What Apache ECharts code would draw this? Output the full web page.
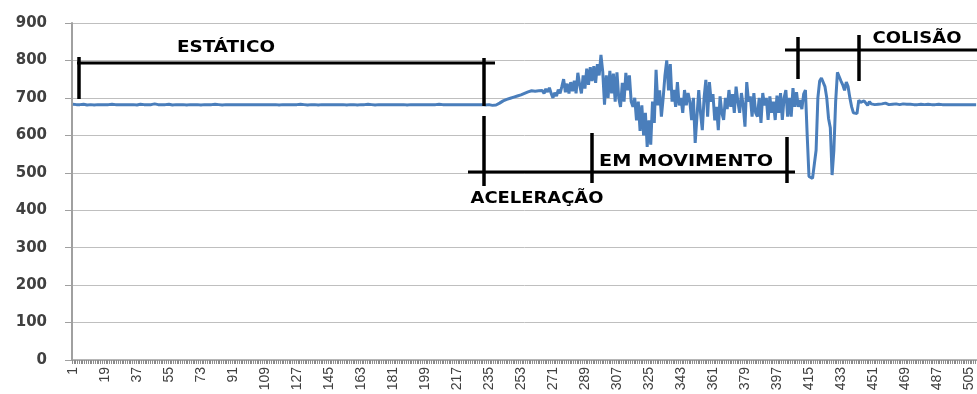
<!DOCTYPE html>
<html>
<head>
<meta charset="utf-8">
<script src="https://cdn.jsdelivr.net/npm/echarts@6/dist/echarts.min.js"></script>
<style>
html,body{margin:0;padding:0;background:#fff;}
#chart{width:977px;height:394px;}
</style>
</head>
<body>
<div id="chart"></div>
<script>
// ---- data ----
const staticValues = [
683,682,682,681,682,682,683,682,681,682,682,682,681,682,682,683,682,682,682,681,
682,682,683,684,682,681,682,682,682,683,682,681,682,682,682,682,681,682,683,682,
682,681,682,682,682,683,684,682,682,681,682,682,682,682,683,682,681,682,682,682,
682,683,682,682,681,682,682,682,682,683,682,682,681,682,682,682,682,681,682,682,
683,682,682,682,681,682,682,682,682,683,682,682,682,681,682,682,682,682,682,681,
682,682,682,683,682,682,682,681,682,682,682,682,682,683,682,682,681,682,682,682,
682,682,682,681,682,682,682,682,683,682,682,682,681,682,682,682,682,682,681,682,
682,682,682,682,682,681,682,682,682,683,682,682,682,682,681,682,682,682,682,682,
681,682,682,682,682,682,683,682,682,682,681,682,682,682,682,682,682,681,682,682,
682,682,682,683,682,682,682,682,681,682,682,682,682,682,682,683,682,682,682,681,
682,682,682,682,682,682,683,682,682,682,682,681,682,682,682,682,682,682,682,683,
682,682,682,681,682,682,682,682,682,683,682,682,681,682,682
];
const accelValues = [
681,680,680,681,683,686,689,692,694,696,698,699,701,702,704,705,706,708,710,712,
714,716,715,719,722,718,723,719,724
];
const movingValues = [
720,712,724,716,727,712,700,714,705,722,712,730,750,715,738,712,742,718,746,712,
767,735,712,760,725,778,735,782,745,785,740,790,760,815,770,682,
760,700,772,712,765,690,768,700,676,740,690,767,720,760,690,676,700,640,690,612,
680,600,660,569,640,575,690,633,775,680,720,650,700,
760,800,720,790,690,721,676,742,680,700,660,721,680,713,690,641,700,580,650,721,
660,614,700,748,650,742,690,710,640,676,614,704,660,641,700,670,721,676,710,660,
730,690,660,713,680,623,742,690,704,650,713,660,650,700,633,713,680,700,641,704,
660,690,641,706,660,713,641,700,721,650,700,650,726,676,715,676,694,670,710,721
];
const collisionValues = [
600,490,486,485,487,560,700,745,753,748,730,700,645,620,494,560,690,768,765,745,
735,720,742,730,700,676,660,664,658,694,688
];
const settleValues = [
684,692,686,680,690,684,688,682,687,683,688,684,682,686,684,682,685,683,682,684,
683,682,683,684,682,683,682,683,682,682,683,682,682,683,682,682,682,683,682,682,
681,682,682,683,682,682,682,682,683,682,682,682,681,682,682,682,683,682,682,682,
682,682,681,682,682
];
const seriesValues = staticValues.concat(accelValues, movingValues, collisionValues, settleValues);
const categories = seriesValues.map((v, i) => String(i + 1));
const yTicks = {min: 0, max: 900, interval: 100};
const annotationTexts = ['ESTÁTICO', 'ACELERAÇÃO', 'EM MOVIMENTO', 'COLISÃO'];

// ---- chart ----
const chart = echarts.init(document.getElementById('chart'), null, {renderer: 'canvas'});

const FONT = 'bold 15px "DejaVu Sans"';
const ctx = document.createElement('canvas').getContext('2d');
ctx.font = FONT;
function label(text, cx, cy, targetW) {
  const w = ctx.measureText(text).width || targetW;
  return {
    type: 'text', x: cx, y: cy, z: 100, scaleX: targetW / w,
    style: {text: text, font: FONT, fill: '#000', align: 'center', verticalAlign: 'middle'}
  };
}
function seg(x1, y1, x2, y2, w) {
  return {type: 'line', z: 100, shape: {x1, y1, x2, y2}, style: {stroke: '#000', lineWidth: w}};
}

const option = {
  animation: false,
  backgroundColor: '#fff',
  grid: {left: 72, top: 23, width: 905, height: 337, containLabel: false},
  xAxis: {
    type: 'category',
    data: categories,
    boundaryGap: true,
    axisLine: {lineStyle: {color: '#a0a0a0', width: 1.5}},
    axisTick: {show: true, interval: 0, length: 4, lineStyle: {color: '#8c8c8c', width: 1}},
    axisLabel: {interval: 17, rotate: 90, fontFamily: 'Liberation Sans', fontSize: 14, color: '#404040', margin: 7},
    splitLine: {show: false}
  },
  yAxis: {
    type: 'value',
    min: yTicks.min, max: yTicks.max, interval: yTicks.interval,
    axisLine: {show: true, lineStyle: {color: '#a0a0a0', width: 2}},
    axisTick: {show: true, length: 7, lineStyle: {color: '#a0a0a0', width: 1}},
    axisLabel: {fontFamily: 'DejaVu Sans', fontWeight: 'bold', fontSize: 15, color: '#404040', margin: 25},
    splitLine: {show: true, lineStyle: {color: '#bfbfbf', width: 1}}
  },
  series: [{
    type: 'line',
    data: seriesValues,
    showSymbol: false,
    symbol: 'none',
    lineStyle: {color: '#4a7ebb', width: 3},
    z: 2
  }],
  graphic: [
    seg(77, 63, 495, 63, 3),
    seg(79, 57, 79, 99, 3.5),
    seg(484, 58, 484, 106, 3.5),
    seg(484, 116, 484, 186, 3.5),
    seg(468, 172, 795, 172, 3),
    seg(592, 133, 592, 183, 3.5),
    seg(787, 137, 787, 183, 3.5),
    seg(785, 50, 977, 50, 3),
    seg(798, 37, 798, 79, 3.5),
    seg(859, 35, 859, 81, 3.5),
    label(annotationTexts[0], 226, 48, 98),
    label(annotationTexts[1], 537, 199, 133),
    label(annotationTexts[2], 686, 162, 174),
    label(annotationTexts[3], 917, 39, 89)
  ]
};
chart.setOption(option);
</script>
</body>
</html>
